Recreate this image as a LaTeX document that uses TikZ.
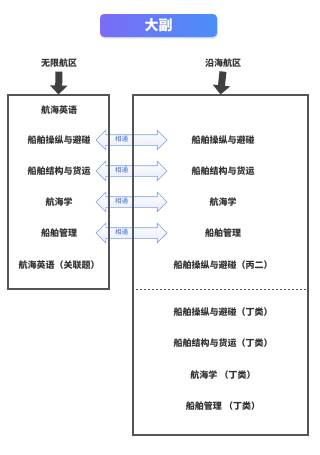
\documentclass[tikz,border=0pt]{standalone}
\usepackage{fontspec}
\newfontfamily\cjk{Noto Sans CJK SC}
\usetikzlibrary{shapes.arrows,arrows.meta,shadows}
\definecolor{txt}{HTML}{333333}
\definecolor{boxline}{HTML}{555555}
\definecolor{arrline}{HTML}{7F9DE0}
\definecolor{arrtxt}{HTML}{3F6AD0}
\definecolor{gleft}{HTML}{7B6CF6}
\definecolor{gright}{HTML}{4A8FF7}
\begin{document}
\begin{tikzpicture}[x=1pt,y=-1pt,
  item/.style={font=\cjk\bfseries\fontsize{9}{10}\selectfont, text=txt, inner sep=0pt},
  head/.style={font=\cjk\bfseries\fontsize{9}{10}\selectfont, text=txt, inner sep=1pt},
  panel/.style={draw=boxline, line width=1.1pt, minimum width=#1, inner sep=0pt},
  linkarrow/.style={double arrow, draw=arrline, line width=0.7pt, top color=white, bottom color=arrline!20,
    minimum height=71pt, minimum width=19pt, double arrow head extend=4.5pt, inner sep=0pt,
    text height=7pt, text depth=3pt, text width=1pt},
  linklabel/.style={font=\cjk\fontsize{6.5}{7}\selectfont, text=arrtxt, inner sep=0pt}
]
\useasboundingbox (0,0) rectangle (320,455);
\fill[white] (0,0) rectangle (320,455);

% title
\node[rounded corners=4pt, left color=gleft, right color=gright, minimum width=117pt, minimum height=23pt,
  text=white, font=\cjk\bfseries\fontsize{14}{16}\selectfont,
  drop shadow={fill=gright!25, shadow xshift=1pt, shadow yshift=-1.5pt, opacity=1}] (title) at (158.5,25.5) {大副};

% headers
\node[head] (lhead) at (59,63) {无限航区};
\node[head] (rhead) at (223,63) {沿海航区};

% link arrows (drawn under the panels)
\foreach \i/\y in {1/140,2/171,3/202,4/233}{
  \node[linkarrow] (a\i) at (131.5,\y) {};
  \node[linklabel] (t\i) at (121.5,\y-0.5) {相通};
}

% panels
\node[panel=101pt, minimum height=194pt] (lbox) at (58.5,192) {};
\node[panel=175pt, minimum height=340pt] (rbox) at (220.5,265) {};

% header arrows
\path (lhead.south) ++(0,3) coordinate (ls);
\path (rhead.south) ++(0,3) coordinate (rs);
\draw[black!75, line width=7pt, -{Triangle[width=17pt,length=9pt]}] (ls) -- (lbox.north);
\draw[black!75, line width=7pt, -{Triangle[width=17pt,length=9pt]}] (rs) -- (rbox.north);

% dashed separator
\coordinate (dashy) at (0,289);
\draw[boxline, line width=0.8pt, dash pattern=on 2pt off 2pt] (rbox.west |- dashy) -- (rbox.east |- dashy);

% left items
\node[item] (l0) at (59,110) {航海英语};
\node[item] (l1) at (59,140) {船舶操纵与避碰};
\node[item] (l2) at (59,171) {船舶结构与货运};
\node[item] (l3) at (59,202) {航海学};
\node[item] (l4) at (59,233) {船舶管理};
\node[item] (l5) at (59,265) {航海英语（关联题）};

% right items
\node[item] (r1) at (223,140) {船舶操纵与避碰};
\node[item] (r2) at (223,171) {船舶结构与货运};
\node[item] (r3) at (223,202) {航海学};
\node[item] (r4) at (223,233) {船舶管理};
\node[item] (r5) at (223,265) {船舶操纵与避碰（丙二）};
\node[item] (r6) at (223,312) {船舶操纵与避碰（丁类）};
\node[item] (r7) at (223,343) {船舶结构与货运（丁类）};
\node[item] (r8) at (223,375) {航海学 （丁类）};
\node[item] (r9) at (223,406) {船舶管理 （丁类）};
\end{tikzpicture}
\end{document}
